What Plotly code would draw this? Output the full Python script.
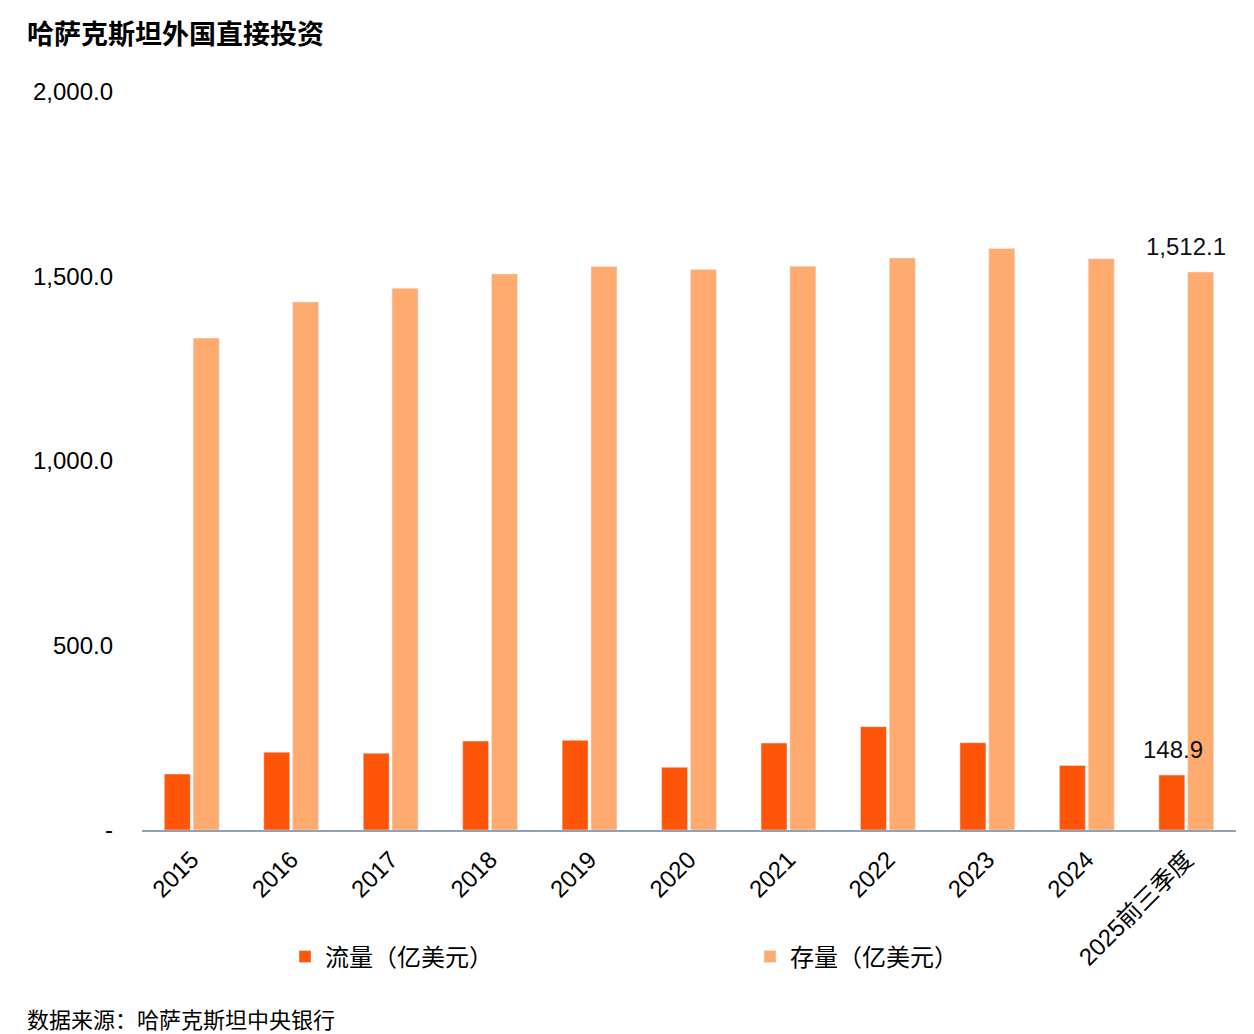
import plotly.graph_objects as go

categories = ["2015", "2016", "2017", "2018", "2019", "2020", "2021", "2022", "2023", "2024", "2025前三季度"]
flow = [151.7, 211.0, 208.0, 241.0, 243.0, 170.0, 235.6, 280.0, 236.5, 175.0, 148.9]
stock = [1333.0, 1431.0, 1468.0, 1507.0, 1527.0, 1519.0, 1528.0, 1550.0, 1576.0, 1548.0, 1512.1]
series_names = ["流量（亿美元）", "存量（亿美元）"]
y_tickvals = [0, 500, 1000, 1500, 2000]
y_ticktext = ["-", "500.0", "1,000.0", "1,500.0", "2,000.0"]

FONT = "Liberation Sans, Arial, Noto Sans CJK SC, sans-serif"
CJK = "Noto Sans CJK SC, sans-serif"
C_FLOW = "#FF5508"
C_STOCK = "#FFAA6F"

PLOT_TOP, PLOT_BOT = 92, 830
def py(pix):
    return (PLOT_BOT - pix) / (PLOT_BOT - PLOT_TOP)

fig = go.Figure()
fig.add_trace(go.Bar(x=categories, y=flow, name=series_names[0], marker_color=C_FLOW))
fig.add_trace(go.Bar(x=categories, y=stock, name=series_names[1], marker_color=C_STOCK))

fig.add_annotation(x=categories[-1], y=flow[-1], text=f"{flow[-1]:,.1f}", showarrow=False,
                   yanchor="bottom", yshift=10, xshift=-13, font=dict(size=24, color="#111", family=FONT))
fig.add_annotation(x=categories[-1], y=stock[-1], text=f"{stock[-1]:,.1f}", showarrow=False,
                   yanchor="bottom", yshift=10, xshift=0, font=dict(size=24, color="#111", family=FONT))

fig.add_annotation(xref="paper", yref="paper", x=-0.1065, y=py(33), xanchor="left", yanchor="middle",
                   text="<b>哈萨克斯坦外国直接投资</b>", showarrow=False,
                   font=dict(size=27, color="#000", family=CJK))
fig.add_annotation(xref="paper", yref="paper", x=-0.1065, y=py(1018), xanchor="left", yanchor="middle",
                   text="数据来源：哈萨克斯坦中央银行", showarrow=False,
                   font=dict(size=22, color="#000", family=CJK))

fig.update_layout(
    width=1254, height=1034,
    margin=dict(l=142, r=18, t=PLOT_TOP, b=1034 - PLOT_BOT, autoexpand=False),
    paper_bgcolor="white", plot_bgcolor="white",
    barmode="group", bargap=0.42, bargroupgap=0.1,
    font=dict(family=FONT, size=24, color="#000"),
    showlegend=True,
    legend=dict(orientation="h", xref="container", yref="container", x=285 / 1254, y=1 - 957 / 1034,
                xanchor="left", yanchor="middle", entrywidth=420, entrywidthmode="pixels",
                bgcolor="rgba(0,0,0,0)",
                itemwidth=30, font=dict(size=24, family=CJK), traceorder="normal"),
)
fig.update_yaxes(range=[0, 2000], tickvals=y_tickvals, ticktext=y_ticktext, showgrid=False,
                 zeroline=False, showline=False, ticks="", ticklabelstandoff=28, automargin=False,
                 tickfont=dict(size=24, family=FONT))
fig.update_xaxes(showline=True, linecolor="#8FA2B6", linewidth=2, ticks="", tickangle=-45,
                 ticklabelstandoff=4, automargin=False, tickfont=dict(size=24, family=FONT))

fig.write_html("out.html")
